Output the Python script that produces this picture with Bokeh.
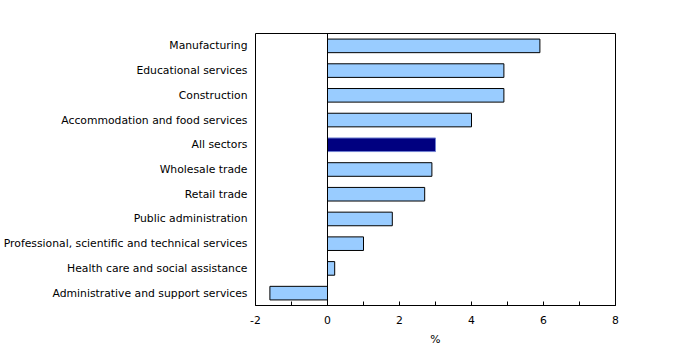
from bokeh.plotting import figure
from bokeh.models import ColumnDataSource, FactorRange, Range1d, FixedTicker, Span
from bokeh.embed import file_html
from bokeh.resources import INLINE

categories = [
    "Manufacturing",
    "Educational services",
    "Construction",
    "Accommodation and food services",
    "All sectors",
    "Wholesale trade",
    "Retail trade",
    "Public administration",
    "Professional, scientific and technical services",
    "Health care and social assistance",
    "Administrative and support services",
]
values = [5.9, 4.9, 4.9, 4.0, 3.0, 2.9, 2.7, 1.8, 1.0, 0.2, -1.6]
major_ticks = [-2, 0, 2, 4, 6, 8]
minor_ticks = [-1, 1, 3, 5, 7]
tick_labels = ["-2", "0", "2", "4", "6", "8"]

colors = ["#000080" if c == "All sectors" else "#99CCFF" for c in categories]
lines = ["#6F7FD0" if c == "All sectors" else "#000000" for c in categories]

src = ColumnDataSource(dict(cat=categories, val=values, color=colors, line=lines))

FONT = "DejaVu Sans"
FS = "10.8px"

p = figure(
    width=674, height=348,
    y_range=FactorRange(*reversed(categories), range_padding=0),
    x_range=Range1d(-2, 8),
    output_backend="svg", toolbar_location=None,
    min_border_left=253, min_border_right=59, min_border_top=33, min_border_bottom=41,
)
p.hbar(y="cat", left=0, right="val", height=0.55, source=src,
       fill_color="color", line_color="line", line_width=1)

p.add_layout(Span(location=0, dimension="height", line_color="black", line_width=1))

p.xgrid.visible = False
p.ygrid.visible = False
p.outline_line_color = "black"
p.outline_line_width = 1
p.background_fill_color = "white"
p.border_fill_color = "white"

xa = p.xaxis[0]
xa.ticker = FixedTicker(ticks=major_ticks, minor_ticks=minor_ticks)
xa.major_label_overrides = {t: s for t, s in zip(major_ticks, tick_labels)}
xa.major_tick_in = 4
xa.major_tick_out = 0
xa.minor_tick_in = 4
xa.minor_tick_out = 0
xa.axis_line_color = "black"
xa.major_label_text_font = FONT
xa.major_label_text_font_size = FS
xa.major_label_text_color = "black"
xa.major_label_standoff = 10
xa.axis_label = "%"
xa.axis_label_text_font = FONT
xa.axis_label_text_font_size = FS
xa.axis_label_text_font_style = "normal"
xa.axis_label_text_color = "black"
xa.axis_label_standoff = 6

ya = p.yaxis[0]
ya.axis_line_color = None
ya.major_tick_line_color = None
ya.minor_tick_line_color = None
ya.major_tick_in = 0
ya.major_tick_out = 0
ya.minor_tick_in = 0
ya.minor_tick_out = 0
ya.major_label_text_font = FONT
ya.major_label_text_font_size = FS
ya.major_label_text_color = "black"
ya.major_label_standoff = 8

open("out.html", "w").write(file_html(p, INLINE))
